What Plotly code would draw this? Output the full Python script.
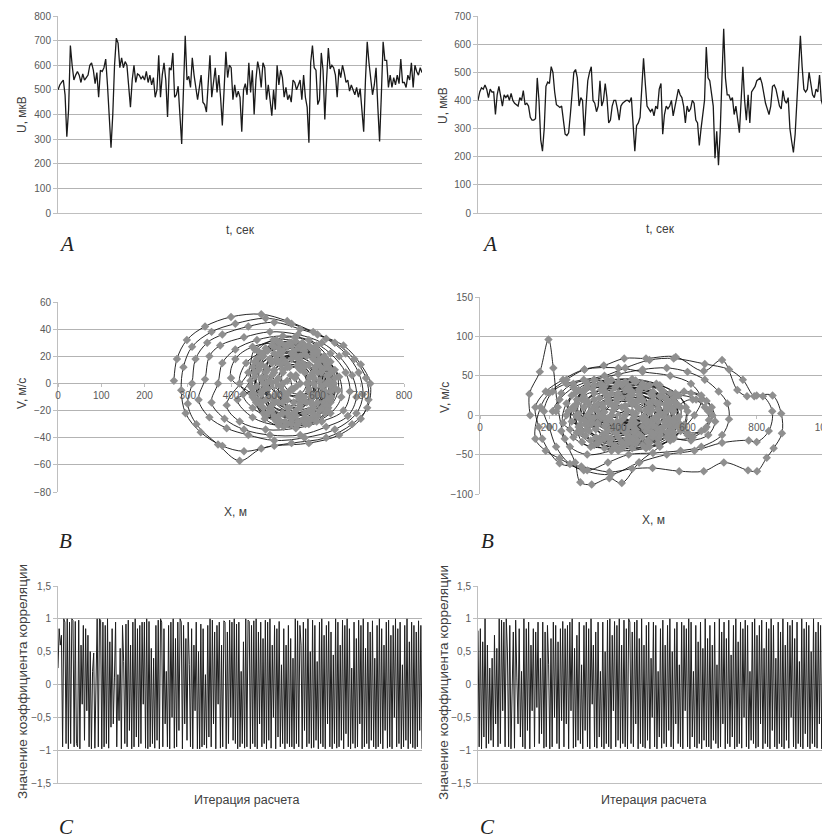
import plotly.graph_objects as go

# ---------------- DATA ----------------
U_LEFT = [500, 520, 530, 540, 480, 310, 420, 680, 600, 540, 560, 575, 560, 530, 565, 540, 550, 560, 600, 610,
          580, 525, 570, 470, 580, 575, 590, 625, 520, 400, 265, 400, 600, 710, 690, 590, 630, 590, 615, 600,
          520, 430, 540, 600, 530, 565, 560, 545, 555, 540, 575, 530, 560, 520, 550, 470, 500, 640, 470, 560,
          610, 540, 390, 590, 580, 650, 470, 480, 515, 400, 280, 500, 720, 540, 555, 510, 630, 560, 500, 460,
          510, 560, 450, 440, 410, 530, 640, 470, 520, 590, 490, 560, 470, 355, 500, 655, 550, 600, 590, 460,
          520, 470, 495, 470, 330, 500, 525, 480, 610, 490, 580, 400, 540, 615, 580, 510, 610, 590, 460, 520,
          460, 395, 500, 420, 600, 520, 580, 550, 470, 510, 460, 480, 450, 540, 530, 500, 520, 540, 460, 560,
          470, 430, 285, 610, 680, 590, 580, 440, 460, 650, 580, 380, 540, 670, 585, 600, 590, 560, 470, 585,
          550, 600, 570, 530, 540, 495, 520, 500, 480, 510, 470, 505, 430, 330, 540, 695, 610, 540, 480, 520,
          590, 430, 290, 480, 695, 620, 620, 510, 560, 510, 550, 520, 560, 525, 625, 530, 530, 510, 560, 540,
          610, 510, 600, 575, 560, 590, 570]

U_RIGHT = [400, 430, 445, 440, 455, 440, 410, 440, 430, 430, 350, 420, 450, 420, 380, 420, 410, 420, 400, 425,
           400, 390, 385, 380, 410, 400, 435, 385, 390, 380, 340, 330, 330, 335, 480, 400, 260, 220, 300, 450,
           465, 460, 520, 500, 430, 385, 380, 375, 380, 330, 280, 275, 285, 350, 440, 500, 510, 480, 380, 410,
           400, 275, 380, 470, 500, 520, 400, 390, 360, 380, 470, 380, 400, 460, 410, 320, 330, 380, 400, 400,
           370, 330, 380, 390, 395, 400, 400, 395, 410, 330, 220, 310, 320, 340, 450, 550, 460, 380, 370, 360,
           370, 345, 380, 370, 440, 460, 280, 350, 380, 370, 380, 400, 345, 380, 400, 440, 420, 410, 380, 320,
           380, 360, 370, 400, 390, 330, 320, 240, 300, 360, 400, 590, 480, 470, 420, 380, 195, 290, 170, 290,
           480, 655, 480, 420, 420, 400, 410, 350, 380, 340, 285, 400, 520, 400, 330, 420, 320, 430, 440, 450,
           470, 475, 480, 460, 420, 390, 370, 350, 380, 450, 455, 440, 410, 380, 370, 435, 400, 390, 410, 300,
           255, 215, 280, 400, 520, 630, 520, 440, 430, 440, 500, 460, 420, 410, 440, 430, 490, 400, 380, 370,
           420, 530, 470]

PHASE_LEFT = [
    (268, 2), (275, 18), (298, 32), (340, 42), (400, 49), (470, 51), (530, 46), (590, 38), (640, 30), (685, 18),
    (712, 4), (718, -12), (700, -26), (650, -38), (580, -44), (500, -46), (430, -50), (380, -46), (330, -36), (295, -22),
    (285, -5), (290, 12), (310, 27), (355, 38), (410, 44), (480, 48), (540, 44), (600, 36), (660, 28), (700, 14),
    (722, 0), (715, -18), (680, -30), (620, -40), (540, -44), (470, -48), (420, -57), (370, -45), (320, -30), (300, -15),
    (310, 0), (318, 18), (345, 30), (380, 36), (440, 42), (500, 45), (560, 40), (620, 33), (665, 22), (695, 8),
    (705, -8), (690, -22), (640, -34), (570, -40), (500, -42), (440, -38), (390, -33), (350, -25), (325, -12),
    (340, 3), (350, 20), (375, 28), (430, 34), (490, 38), (555, 36), (610, 30), (650, 20), (680, 6), (690, -10),
    (670, -24), (620, -32), (560, -38), (490, -38), (430, -34), (385, -26), (355, -14),
    (370, 0), (380, 15), (410, 25), (460, 32), (520, 35), (580, 32), (630, 22), (665, 8), (675, -6), (660, -20),
    (610, -28), (550, -33), (480, -34), (420, -28), (390, -16),
    (440, 8), (455, 25), (505, 32), (565, 30), (615, 20), (640, 4), (630, -14), (590, -26), (530, -30), (475, -22), (448, -8),
    (400, 4), (410, 18), (450, 27), (510, 30), (570, 28), (620, 18), (650, 5), (655, -10), (630, -22), (580, -30),
    (510, -31), (450, -25), (415, -12),
    (450, -4), (465, 12), (500, 22), (555, 26), (605, 18), (628, 2), (615, -14), (570, -22), (510, -24), (465, -14),
    (420, 0), (435, 15), (480, 24), (540, 28), (600, 22), (640, 10), (648, -5), (625, -18), (570, -26), (500, -26),
    (450, -18), (428, -8),
    (465, 10), (485, 24), (540, 30), (590, 26), (625, 12), (630, -6), (605, -20), (555, -28), (500, -24), (470, -8),
    (445, 2), (460, 18), (510, 26), (570, 24), (620, 12), (635, -3), (610, -18), (550, -24), (490, -20), (455, -8),
    (470, -6), (480, 8), (520, 18), (575, 20), (608, 8), (610, -8), (585, -20), (535, -24), (490, -18),
    (455, 5), (475, 20), (530, 27), (590, 20), (625, 6), (620, -10), (580, -20), (520, -22), (470, -14),
    (485, 10), (510, 22), (560, 26), (600, 14), (612, -2), (590, -16), (545, -22), (500, -12),
    (460, -2), (470, 14), (515, 22), (570, 22), (612, 10), (618, -6), (590, -18), (530, -22), (480, -12),
    (450, 12), (480, 26), (535, 30), (595, 24), (630, 10), (632, -10), (600, -24), (540, -30), (480, -24), (450, -10),
    (460, 15), (500, 27), (560, 28), (610, 18), (630, -2), (612, -18), (565, -27), (505, -26), (462, -12),
    (445, -2), (455, 16), (495, 28), (550, 31), (600, 24), (632, 8), (628, -12), (595, -25), (540, -28), (485, -22),
    (470, 20), (515, 30), (580, 28), (622, 14), (625, -12), (585, -26), (525, -28), (475, -18),
    (455, 8), (470, 22), (525, 28), (585, 26), (618, 16), (638, 0), (620, -16), (575, -26), (515, -28), (468, -16),
    (462, 24), (498, 32), (548, 34), (598, 28), (630, 16), (642, -4), (618, -22), (572, -30), (522, -32), (478, -26), (455, -12),
    (458, -14), (470, 4), (505, 16), (545, 22), (590, 22), (622, 6), (622, -20), (598, -28), (555, -30), (505, -28),
    (480, 12), (520, 24), (570, 26), (608, 12), (615, -8), (590, -22), (540, -26), (495, -20), (478, -4),
    (470, 3), (490, 18), (545, 24), (600, 16), (620, 0), (600, -14), (550, -20), (495, -16),
    (490, 18), (540, 22), (590, 18), (605, 2), (590, -16), (545, -22), (500, -14),
    (475, 0), (495, 15), (550, 20), (595, 12), (610, -2), (585, -14), (530, -18), (490, -10),
    (500, 10), (540, 18), (580, 14), (598, -2), (575, -14), (535, -18), (505, -8),
    (480, 5), (505, 18), (560, 20), (600, 8), (598, -8), (560, -16), (510, -14), (485, -4),
    (510, 16), (555, 18), (590, 8), (590, -10), (560, -18), (520, -14), (505, 0),
    (490, 2), (515, 14), (565, 15), (592, 4), (585, -10), (545, -14), (505, -8),
    (500, 0), (520, 10), (555, 14), (585, 6), (588, -8), (560, -14), (525, -10),
    (520, 8), (555, 12), (578, 0), (565, -12), (530, -12), (515, -2),
    (495, 6), (525, 16), (570, 12), (590, 0), (570, -10), (530, -12), (500, -2),
    (482, 0), (500, 8), (530, 14), (560, 12), (582, 4), (580, -6), (560, -8), (535, -6), (520, 0),
    (510, 4), (530, 12), (560, 10), (575, 0), (560, -8), (530, -8),
    (505, 2), (535, 12), (570, 8), (580, -4), (555, -10), (520, -6), (530, 2), (550, 6), (560, 0), (545, -4),
    (538, 6), (548, 4), (552, -2), (540, -4),
]

PHASE_RIGHT = [
    (145, 0), (143, 27), (173, 55), (198, 96), (212, 60), (225, 10), (245, -30), (275, -60), (290, -85), (323, -88),
    (374, -80), (410, -86), (460, -60), (520, -40), (580, -20), (620, 0), (640, 20), (610, 40), (550, 50), (470, 55),
    (400, 60), (302, 58), (240, 45), (190, 30), (160, 10),
    (170, -15), (180, -30), (230, -61), (293, -65), (374, -72), (440, -68), (499, -67), (576, -71), (647, -71), (705, -60),
    (775, -70), (801, -71), (829, -54), (849, -42), (873, -23), (871, 2), (846, 25), (800, 25), (772, 24), (744, 32),
    (700, 70), (647, 56), (566, 74), (480, 72), (417, 72), (358, 63), (302, 58), (250, 45), (200, 28), (175, 10),
    (160, -30), (190, -45), (230, -55), (300, -70), (380, -75), (460, -60), (540, -50), (620, -45), (700, -35), (777, -32),
    (800, -34), (835, -20), (845, 5), (818, 24), (793, 24), (760, 45), (720, 58), (650, 65), (560, 72), (490, 70),
    (420, 60), (360, 50), (300, 45), (250, 40), (210, 30), (185, 5),
    (200, -15), (220, -40), (260, -62), (310, -70), (370, -60), (430, -50), (500, -48), (580, -45), (640, -40), (700, -25),
    (720, -5), (715, 15), (690, 30), (650, 45), (600, 55), (540, 60), (470, 58), (400, 52), (330, 45), (270, 35),
    (230, 20), (210, 5),
    (220, 5), (235, 28), (270, 40), (330, 45), (400, 40), (460, 30), (490, 10), (480, -15), (440, -35), (380, -45),
    (310, -50), (260, -40), (235, -20),
    (250, 0), (265, 25), (310, 40), (380, 45), (450, 44), (520, 38), (575, 25), (600, 5), (590, -15), (550, -32),
    (480, -42), (400, -45), (330, -38), (280, -22),
    (240, -10), (250, 15), (285, 32), (350, 38), (420, 32), (470, 18), (480, -5), (450, -25), (390, -38), (320, -40),
    (270, -28),
    (260, -18), (268, 10), (300, 32), (370, 42), (450, 42), (520, 34), (560, 18), (575, -2), (560, -22), (515, -36),
    (440, -42), (360, -42), (295, -34),
    (280, 15), (310, 35), (370, 44), (440, 46), (510, 40), (565, 28), (595, 10), (590, -12), (555, -30), (490, -40),
    (410, -42), (340, -36), (295, -20), (278, 0),
    (500, -5), (520, 15), (570, 25), (625, 20), (660, 5), (655, -15), (615, -28), (560, -30), (515, -20),
    (255, 5), (275, 28), (330, 38), (400, 40), (470, 38), (530, 30), (565, 12), (570, -8), (545, -25), (490, -35),
    (420, -38), (345, -34), (290, -22),
    (270, 8), (295, 30), (350, 40), (420, 42), (490, 38), (550, 28), (580, 10), (575, -10), (540, -28), (470, -38),
    (390, -40), (320, -32), (285, -15),
    (520, 0), (540, 20), (590, 30), (640, 25), (670, 10), (680, -8), (660, -25), (610, -32), (560, -28), (530, -15),
    (265, -8), (280, 20), (325, 34), (395, 37), (465, 34), (525, 24), (558, 6), (552, -16), (515, -30), (450, -36),
    (375, -35), (305, -26),
    (295, 20), (330, 38), (400, 42), (470, 40), (530, 30), (565, 15), (570, -5), (545, -22), (485, -34), (410, -36),
    (345, -30), (305, -12),
    (275, 12), (300, 30), (360, 36), (430, 36), (500, 30), (548, 16), (562, -4), (540, -22), (485, -32), (410, -34),
    (335, -28), (290, -12),
    (290, -5), (305, 18), (350, 32), (410, 38), (480, 35), (535, 22), (560, 5), (548, -14), (500, -28), (430, -34),
    (360, -30), (310, -18),
    (540, 5), (560, 22), (610, 28), (655, 18), (672, 0), (650, -18), (600, -25), (560, -15),
    (285, 2), (300, 24), (355, 32), (425, 34), (495, 28), (545, 12), (550, -10), (520, -26), (455, -32), (380, -30),
    (315, -20),
    (300, 10), (330, 28), (390, 35), (460, 33), (520, 24), (555, 8), (545, -12), (505, -25), (440, -30), (370, -28),
    (320, -12),
    (300, -6), (315, 14), (365, 26), (435, 30), (500, 24), (540, 8), (535, -12), (495, -26), (425, -30), (355, -24),
    (312, -10),
    (310, 0), (330, 20), (380, 28), (440, 30), (500, 24), (540, 10), (535, -8), (495, -22), (430, -26), (365, -22),
    (325, -10),
    (560, -8), (575, 12), (615, 20), (650, 10), (662, -6), (640, -20), (600, -22), (570, -14),
    (310, 18), (360, 30), (430, 32), (495, 26), (535, 14), (545, -4), (525, -20), (470, -28), (400, -28), (335, -18),
    (320, 5), (345, 22), (400, 28), (460, 25), (515, 15), (530, 0), (510, -16), (460, -24), (395, -22), (340, -10),
    (320, -4), (340, 14), (395, 24), (460, 26), (510, 16), (528, 0), (510, -16), (455, -24), (390, -22), (340, -12),
    (330, -3), (355, 14), (410, 22), (470, 20), (515, 8), (515, -8), (480, -20), (420, -22), (360, -14),
    (330, 10), (370, 24), (440, 26), (500, 18), (522, 2), (500, -14), (445, -22), (375, -18),
    (340, 6), (370, 20), (430, 24), (490, 16), (520, 2), (500, -12), (450, -18), (390, -16), (350, -4),
    (345, 0), (370, 16), (430, 20), (490, 14), (510, -2), (485, -16), (425, -20), (365, -12),
    (350, 0), (380, 14), (440, 18), (495, 10), (505, -4), (470, -14), (410, -16), (365, -8),
    (355, 10), (395, 20), (455, 18), (495, 6), (490, -10), (450, -18), (390, -14), (358, -2),
    (360, 4), (395, 16), (450, 16), (490, 4), (480, -10), (430, -14), (380, -8),
    (370, -4), (390, 10), (440, 14), (480, 6), (478, -8), (440, -14), (395, -10),
    (380, 0), (410, 10), (455, 10), (475, -2), (450, -10), (405, -8),
    (385, 6), (420, 12), (460, 8), (468, -4), (440, -10), (400, -6),
    (400, 0), (425, 6), (450, 2), (440, -6), (415, -4), (420, 0), (440, 4), (445, -3),
]

CORR_LEFT = [0.25, 0.85, 0.6, 0.75, -0.95, 1, 0.95, -0.9, 1, -0.98, 0.95, -0.9, 1, 0.98, -0.95, 0.96, -0.9, -0.95,
             0.98, -0.98, 0.6, -0.3, 0.9, -0.85, 0.85, -0.4, 0.75, -0.95, 0.5, -0.98, 0.2, 0.48, -0.97, 0.2, 1,
             -0.95, 1, 0.98, -0.98, 0.95, -0.95, 0.9, -0.9, 1, -0.97, 0.65, -0.65, 0.85, -0.6, 0.1, 0.95, -0.95,
             0.15, -0.55, 0.55, -0.98, 0.9, 0.35, -0.9, 0.92, -0.95, 0.98, -0.7, 0.6, -0.98, 0.95, -0.95, 1, -0.8,
             0.85, -0.95, 0.9, -0.9, 0.95, -0.3, 0.95, -0.97, 1, -0.98, 0.96, -0.95, 0.55, -0.9, 0.4, -0.97, 0.9,
             -0.85, 0.98, -0.98, 1, 0.95, -0.95, 0.85, -0.6, 0.2, -0.95, 0.9, -0.98, 0.95, -0.5, 1, -0.97, 0.7,
             -0.95, 0.95, -0.7, 1, 0.95, -0.98, 0.9, -0.6, 0.7, -0.85, 0.95, 0.3, -0.95, 0.85, -0.98, 0.6, -0.4,
             0.95, -0.98, 0.5, -0.98, 0.92, -0.95, 0.85, -0.92, 0.15, -0.97, 0.9, -0.8, 1, -0.95, 0.98, -0.6, 0.8,
             -0.98, 0.9, -0.3, 0.95, -0.97, 0.6, -0.95, 0.97, 0.95, -0.98, 0.8, -0.9, 0.98, -0.5, 0.95, -0.85, 1,
             -0.9, 0.92, -0.98, 0.95, -0.95, 0.2, -0.9, 0.65, -0.97, 1, -0.95, 0.98, 0.96, -0.98, 0.9, -0.9, 0.97,
             -0.95, 1, -0.98, 0.8, -0.6, 0.95, -0.95, 0.7, -0.9, 0.98, -0.98, 0.95, -0.85, 1, -0.97, 0.6, -0.5,
             0.9, -0.98, 0.85, -0.8, 0.96, -0.95, 0.3, -0.9, 0.85, -0.98, 0.6, -0.9, 0.9, -0.95, 0.7, -0.95, 0.4,
             -0.98, 1, -0.9, 0.97, -0.95, 0.9, 0.6, -0.98, 0.95, -0.7, 0.85, -0.95, 1, -0.9, 0.5, -0.97, 0.98,
             -0.96, 0.9, -0.85, 0.35, -0.98, 0.95, -0.9, 1, -0.95, 0.75, -0.98, 0.9, -0.6, 0.96, -0.95, 0.8, -0.98,
             0.45, -0.9, 1, -0.97, 0.95, -0.95, 0.6, -0.85, 0.98, -0.98, 0.9, -0.75, 1, -0.95, 0.85, -0.98, 0.25,
             -0.9, 0.95, -0.97, 0.7, -0.95, 0.98, -0.6, 0.9, -0.98, 1, -0.95, 0.55, -0.9, 0.95, -0.98, 0.8, -0.85,
             0.97, -0.95, 0.4, -0.98, 0.9, -0.95, 1, -0.9, 0.85, -0.98, 0.6, -0.7, 0.95, -0.97, 0.98, -0.95, 0.75,
             -0.98, 0.9, -0.5, 1, -0.95, 0.85, -0.9, 0.95, -0.98, 0.3, -0.95, 0.9, -0.85, 1, -0.98, 0.65, -0.9,
             0.95, -0.96, 0.9, -0.98, 0.8, -0.95, 0.97, -0.7, 0.9, -0.98]

CORR_RIGHT = [0.82, -0.95, 0.85, -0.98, 0.65, -0.8, 1, -0.97, 0.6, -0.9, 0.25, -0.85, 0.4, -0.95, 0.75, -0.6, 0.55,
              -0.95, 1, -0.9, 0.98, -0.4, 0.95, -0.95, 1, 0.5, -0.95, 0.9, -0.98, 0.15, 0.8, -0.97, 0.98, 0.1, -0.6,
              0.85, -0.8, 0.2, -0.95, 1, -0.98, 0.85, -0.7, 0.95, -0.98, 0.6, -0.4, 0.85, -0.95, 0.8, -0.35, 0.95,
              -0.9, 0.4, -0.75, 0.95, -0.97, 0.8, -0.95, 0.9, 0.3, -0.98, 0.7, -0.95, 0.95, -0.5, 0.9, -0.9, 0.65,
              -0.98, 0.85, -0.55, 0.96, -0.95, 0.85, -0.6, 0.9, -0.98, 0.95, -0.4, 1, -0.97, 0.55, -0.95, 0.75,
              -0.85, 0.95, -0.9, 0.3, -0.98, 0.9, -0.7, 0.95, -0.95, 0.85, -0.98, 1, -0.3, 0.6, -0.95, 0.8, -0.97,
              0.95, -0.8, 0.2, -0.95, 0.95, -0.98, 0.5, -0.9, 0.98, -0.95, 1, -0.98, 0.75, -0.4, 0.96, -0.95, 0.9,
              -0.85, 1, -0.97, 0.6, -0.9, 0.98, -0.95, 0.85, -0.98, 1, 0.95, -0.9, 0.8, -0.95, 0.95, -0.6, 0.98,
              -0.98, 0.7, -0.9, 1, -0.95, 0.6, -0.97, 0.9, -0.85, 0.95, -0.98, 0.4, -0.5, 0.95, -0.95, 0.9, -0.98,
              0.2, -0.8, 0.85, -0.97, 0.98, -0.9, 0.6, -0.95, 0.9, -0.7, 1, -0.95, 0.5, -0.98, 0.85, -0.6, 0.95,
              -0.9, 0.3, -0.95, 0.95, -0.98, 0.9, -0.4, 0.85, -0.95, 1, -0.98, 0.95, -0.8, 0.2, -0.95, 0.9, -0.97,
              0.65, -0.9, 0.95, -0.98, 0.55, -0.85, 1, -0.95, 0.7, -0.95, 0.9, -0.98, 0.6, -0.85, 0.95, -0.9, 0.3,
              -0.97, 1, -0.95, 0.8, -0.6, 0.95, -0.98, 0.7, -0.9, 0.98, -0.95, 0.45, -0.8, 0.9, -0.98, 1, -0.95,
              0.65, -0.9, 0.95, -0.97, 0.85, -0.5, 0.98, -0.95, 0.9, -0.98, 0.2, -0.85, 0.95, -0.9, 1, -0.97, 0.75,
              -0.95, 0.9, -0.6, 0.98, -0.98, 0.55, -0.9, 0.95, -0.95, 0.85, -0.98, 1, -0.7, 0.9, -0.95, 0.4, -0.98,
              0.95, -0.9, 0.8, -0.95, 1, -0.98, 0.6, -0.85, 0.95, -0.97, 0.9, -0.5, 0.98, -0.95, 0.7, -0.98, 0.95,
              -0.9, 0.35, -0.95, 1, -0.98, 0.85, -0.75, 0.95, -0.95, 0.9, -0.98, 0.5, -0.9, 1, -0.95, 0.8, -0.97,
              0.95, -0.6, 0.9, -0.98, 0.98, -0.95, 0.65, -0.9, 0.95, -0.98, 0.85]

TITLE_U = "U, мкВ"
TITLE_T = "t, сек"
TITLE_V = "V, м/с"
TITLE_X = "X, м"
TITLE_C = "Значение коэффициента корреляции"
TITLE_I = "Итерация расчета"

# ---------------- FIGURE ----------------
# the page body keeps its default 8px margin, so the figure is placed to end at the window edge
OFF = 8
W, H = 830 - OFF, 838 - OFF
def px(x): return (x - OFF) / W
def py(y): return 1 - (y - OFF) / H

FONT = "Liberation Sans"
TICK_FONT = dict(family=FONT, size=10, color="#595959")
GRID = "#b3b3b3"
AXLINE = "#bfbfbf"

fig = go.Figure()

line_col = "#1a1a1a"
fig.add_trace(go.Scatter(x=list(range(len(U_LEFT))), y=U_LEFT, mode="lines",
                         line=dict(color=line_col, width=1.3), xaxis="x", yaxis="y"))
fig.add_trace(go.Scatter(x=list(range(len(U_RIGHT))), y=U_RIGHT, mode="lines",
                         line=dict(color=line_col, width=1.3), xaxis="x2", yaxis="y2"))

for pts, xa, ya in [(PHASE_LEFT, "x3", "y3"), (PHASE_RIGHT, "x4", "y4")]:
    xs = [p[0] for p in pts]
    vs = [p[1] for p in pts]
    fig.add_trace(go.Scatter(x=xs, y=vs, mode="lines+markers",
                             line=dict(color="#111111", width=0.9, shape="spline", smoothing=1.0),
                             marker=dict(symbol="diamond", size=6.5, color="#8f8f8f"),
                             xaxis=xa, yaxis=ya))

fig.add_trace(go.Scatter(x=list(range(len(CORR_LEFT))), y=CORR_LEFT, mode="lines",
                         line=dict(color="#1e1e1e", width=1.0), xaxis="x5", yaxis="y5"))
fig.add_trace(go.Scatter(x=list(range(len(CORR_RIGHT))), y=CORR_RIGHT, mode="lines",
                         line=dict(color="#1e1e1e", width=1.0), xaxis="x6", yaxis="y6"))

def yax(dom, rng, dtick):
    return dict(domain=dom, range=rng, dtick=dtick, showgrid=True, gridcolor=GRID, gridwidth=1,
                showline=True, linecolor=AXLINE, linewidth=1, ticks="outside", ticklen=4,
                tickcolor=AXLINE, tickfont=TICK_FONT, zeroline=False, fixedrange=True, automargin=False)

def xax_plain(dom, rng, anchor):
    return dict(domain=dom, range=rng, anchor=anchor, showgrid=False, showticklabels=False,
                showline=True, linecolor=AXLINE, linewidth=1, ticks="", zeroline=False, automargin=False)

L_TOP = [px(58), px(422)]
R_TOP = [px(478), 1.0]
ROW1 = [py(213), py(16)]
ROW3 = [py(783), py(586)]

fig.update_layout(
    xaxis=xax_plain(L_TOP, [0, len(U_LEFT) - 1], "y"),
    yaxis=yax(ROW1, [0, 800], 100) | dict(anchor="x"),
    xaxis2=xax_plain(R_TOP, [0, len(U_RIGHT) - 1], "y2"),
    yaxis2=yax(ROW1, [0, 700], 100) | dict(anchor="x2"),
    xaxis5=xax_plain(L_TOP, [0, len(CORR_LEFT) - 1], "y5"),
    yaxis5=yax(ROW3, [-1.5, 1.5], 0.5) | dict(anchor="x5"),
    xaxis6=xax_plain(R_TOP, [0, len(CORR_RIGHT) - 1], "y6"),
    yaxis6=yax(ROW3, [-1.5, 1.5], 0.5) | dict(anchor="x6"),
)

# phase portraits: x axis crosses at V = 0
ML_Y = [py(492), py(302)]
MR_Y = [py(494), py(297)]
ml_zero = ML_Y[0] + (ML_Y[1] - ML_Y[0]) * 80 / 140
mr_zero = MR_Y[0] + (MR_Y[1] - MR_Y[0]) * 100 / 250
fig.update_layout(
    xaxis3=dict(domain=[px(58), px(404)], range=[0, 800], dtick=100, anchor="free", position=ml_zero,
                showgrid=False, showline=False, zeroline=False, ticks="outside", ticklen=3, tickcolor=AXLINE,
                tickfont=TICK_FONT, showticklabels=True, automargin=False),
    yaxis3=yax(ML_Y, [-80, 60], 20) | dict(anchor="x3"),
    xaxis4=dict(domain=[px(480), 1.0], range=[0, 1012], dtick=200, anchor="free", position=mr_zero,
                showgrid=False, showline=False, zeroline=False, ticks="outside", ticklen=3, tickcolor=AXLINE,
                tickfont=TICK_FONT, showticklabels=True, automargin=False, ticklabeloverflow="allow"),
    yaxis4=yax(MR_Y, [-100, 150], 50) | dict(anchor="x4"),
)

ann = []
def text(x, y, t, size=12, angle=0, family=FONT, color="#404040", italic=False):
    s = f"<i>{t}</i>" if italic else t
    ann.append(dict(x=px(x), y=py(y), xref="paper", yref="paper", text=s, showarrow=False,
                    textangle=angle, font=dict(family=family, size=size, color=color),
                    xanchor="center", yanchor="middle"))

# axis titles
text(22, 115, TITLE_U, angle=-90)
text(240, 230, TITLE_T)
text(443, 105, TITLE_U, angle=-90)
text(660, 229, TITLE_T)
text(22, 394, TITLE_V, angle=-90)
text(235, 512, TITLE_X)
text(445, 397, TITLE_V, angle=-90)
text(653, 520, TITLE_X)
text(22, 682, TITLE_C, size=13.5, angle=-90)
text(247, 800, TITLE_I, size=12.5)
text(443, 682, TITLE_C, size=13.5, angle=-90)
text(653, 800, TITLE_I, size=12.5)
# panel letters
for x, y, t in [(66, 244, "A"), (489, 244, "A"), (65, 541, "B"), (487, 541, "B"), (66, 827, "C"), (488, 827, "C")]:
    text(x, y, t, size=21, family="Liberation Serif", color="#222222", italic=True)

fig.update_layout(
    width=W, height=H, margin=dict(l=0, r=0, t=0, b=0, autoexpand=False),
    paper_bgcolor="white", plot_bgcolor="white", showlegend=False,
    separators=", ", annotations=ann,
)

fig.write_html("out.html")
